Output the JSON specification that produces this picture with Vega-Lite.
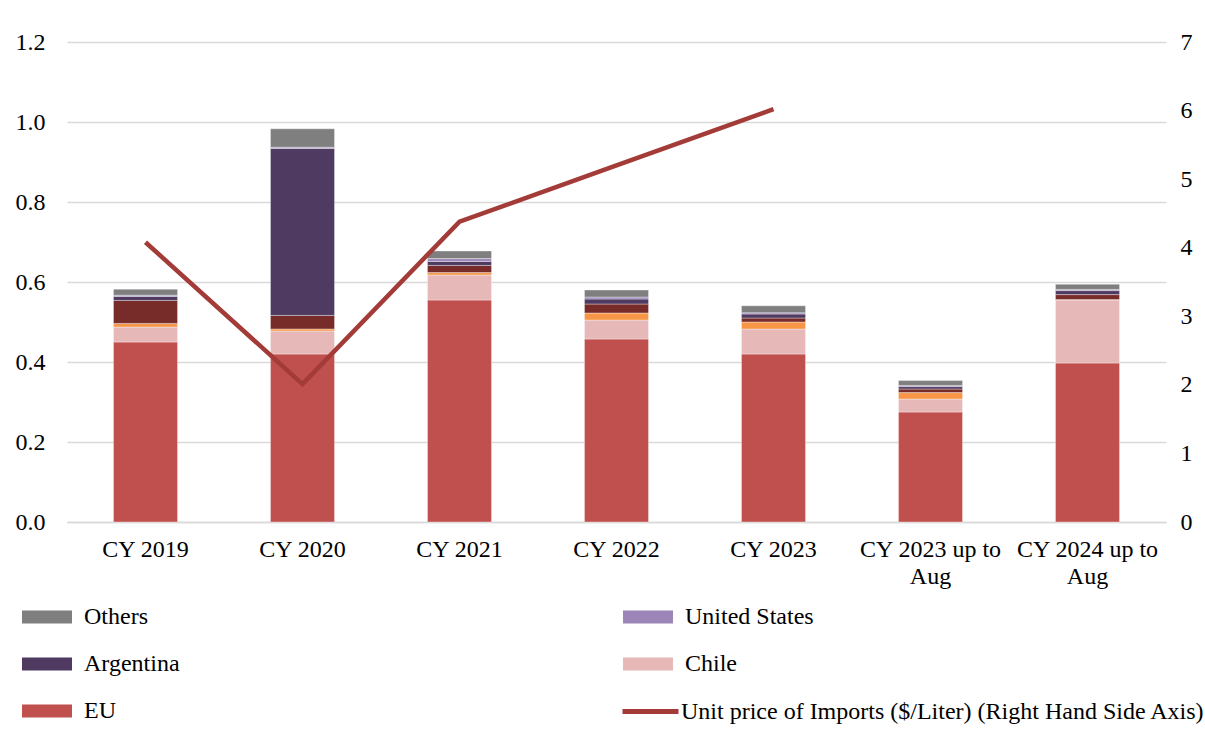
{
  "$schema": "https://vega.github.io/schema/vega-lite/v6.json",
  "width": 1099,
  "height": 480,
  "autosize": {"type": "none"},
  "padding": {"left": 67, "top": 42, "right": 39, "bottom": 210},
  "background": "white",
  "config": {
    "view": {"stroke": null},
    "font": "Liberation Serif",
    "axis": {"labelFont": "Liberation Serif", "labelFontSize": 24, "labelColor": "#000000", "ticks": false, "title": null},
    "legend": {"labelFont": "Liberation Serif", "labelFontSize": 24, "labelColor": "#000000", "title": null}
  },
  "datasets": {
    "shares": [
      {"year": "CY 2019", "source": "EU", "value": 0.45},
      {"year": "CY 2019", "source": "Chile", "value": 0.0375},
      {"year": "CY 2019", "source": "South Africa", "value": 0.009},
      {"year": "CY 2019", "source": "Australia", "value": 0.0575},
      {"year": "CY 2019", "source": "Argentina", "value": 0.01},
      {"year": "CY 2019", "source": "United States", "value": 0.003},
      {"year": "CY 2019", "source": "Others", "value": 0.015},
      {"year": "CY 2020", "source": "EU", "value": 0.42},
      {"year": "CY 2020", "source": "Chile", "value": 0.0575},
      {"year": "CY 2020", "source": "South Africa", "value": 0.005},
      {"year": "CY 2020", "source": "Australia", "value": 0.034},
      {"year": "CY 2020", "source": "Argentina", "value": 0.4175},
      {"year": "CY 2020", "source": "United States", "value": 0.003},
      {"year": "CY 2020", "source": "Others", "value": 0.046},
      {"year": "CY 2021", "source": "EU", "value": 0.555},
      {"year": "CY 2021", "source": "Chile", "value": 0.0625},
      {"year": "CY 2021", "source": "South Africa", "value": 0.006},
      {"year": "CY 2021", "source": "Australia", "value": 0.018},
      {"year": "CY 2021", "source": "Argentina", "value": 0.01},
      {"year": "CY 2021", "source": "United States", "value": 0.007},
      {"year": "CY 2021", "source": "Others", "value": 0.019},
      {"year": "CY 2022", "source": "EU", "value": 0.4575},
      {"year": "CY 2022", "source": "Chile", "value": 0.0475},
      {"year": "CY 2022", "source": "South Africa", "value": 0.0175},
      {"year": "CY 2022", "source": "Australia", "value": 0.0225},
      {"year": "CY 2022", "source": "Argentina", "value": 0.0125},
      {"year": "CY 2022", "source": "United States", "value": 0.005},
      {"year": "CY 2022", "source": "Others", "value": 0.0175},
      {"year": "CY 2023", "source": "EU", "value": 0.42},
      {"year": "CY 2023", "source": "Chile", "value": 0.0625},
      {"year": "CY 2023", "source": "South Africa", "value": 0.0175},
      {"year": "CY 2023", "source": "Australia", "value": 0.01},
      {"year": "CY 2023", "source": "Argentina", "value": 0.01},
      {"year": "CY 2023", "source": "United States", "value": 0.003},
      {"year": "CY 2023", "source": "Others", "value": 0.0175},
      {"year": "CY 2023 up to Aug", "source": "EU", "value": 0.275},
      {"year": "CY 2023 up to Aug", "source": "Chile", "value": 0.0325},
      {"year": "CY 2023 up to Aug", "source": "South Africa", "value": 0.016},
      {"year": "CY 2023 up to Aug", "source": "Australia", "value": 0.009},
      {"year": "CY 2023 up to Aug", "source": "Argentina", "value": 0.006},
      {"year": "CY 2023 up to Aug", "source": "United States", "value": 0.003},
      {"year": "CY 2023 up to Aug", "source": "Others", "value": 0.012},
      {"year": "CY 2024 up to Aug", "source": "EU", "value": 0.3975},
      {"year": "CY 2024 up to Aug", "source": "Chile", "value": 0.1575},
      {"year": "CY 2024 up to Aug", "source": "South Africa", "value": 0.001},
      {"year": "CY 2024 up to Aug", "source": "Australia", "value": 0.0125},
      {"year": "CY 2024 up to Aug", "source": "Argentina", "value": 0.01},
      {"year": "CY 2024 up to Aug", "source": "United States", "value": 0.003},
      {"year": "CY 2024 up to Aug", "source": "Others", "value": 0.013}
    ],
    "price": [
      {"year": "CY 2019", "series": "Unit price of Imports ($/Liter) (Right Hand Side Axis)", "price": 4.08},
      {"year": "CY 2020", "series": "Unit price of Imports ($/Liter) (Right Hand Side Axis)", "price": 2.01},
      {"year": "CY 2021", "series": "Unit price of Imports ($/Liter) (Right Hand Side Axis)", "price": 4.38},
      {"year": "CY 2022", "series": "Unit price of Imports ($/Liter) (Right Hand Side Axis)", "price": 5.2},
      {"year": "CY 2023", "series": "Unit price of Imports ($/Liter) (Right Hand Side Axis)", "price": 6.02}
    ]
  },
  "encoding": {
    "x": {
      "field": "year",
      "type": "nominal",
      "sort": null,
      "scale": {"paddingInner": 0.592, "paddingOuter": 0.296},
      "axis": {
        "labelAngle": 0,
        "labelPadding": 15,
        "domainColor": "#D9D9D9",
        "domainWidth": 1.5,
        "labelLineHeight": 27,
        "labelExpr": "indexof(datum.label, ' up to Aug') > 0 ? [replace(datum.label, ' Aug', ''), 'Aug'] : datum.label"
      }
    }
  },
  "layer": [
    {
      "data": {"name": "shares"},
      "transform": [
        {"calculate": "indexof(['EU', 'Chile', 'South Africa', 'Australia', 'Argentina', 'United States', 'Others'], datum.source)", "as": "stackRank"}
      ],
      "mark": {"type": "bar", "stroke": "white", "strokeWidth": 0.6, "strokeOpacity": 0.6},
      "encoding": {
        "y": {
          "field": "value",
          "type": "quantitative",
          "stack": "zero",
          "scale": {"domain": [0, 1.2], "nice": false},
          "axis": {
            "values": [0, 0.2, 0.4, 0.6, 0.8, 1.0, 1.2],
            "format": ".1f",
            "domain": false,
            "labelPadding": 22,
            "gridColor": "#D9D9D9",
            "gridWidth": 1.5
          }
        },
        "order": {"field": "stackRank", "type": "quantitative", "sort": "ascending"},
        "color": {
          "field": "source",
          "type": "nominal",
          "scale": {
            "domain": ["EU", "Chile", "South Africa", "Australia", "Argentina", "United States", "Others"],
            "range": ["#C0504D", "#E6B9B8", "#F79646", "#772C2A", "#4F3A62", "#9B86B7", "#7F7F7F"]
          },
          "legend": {
            "values": ["Others", "Argentina", "EU", "United States", "Chile"],
            "orient": "none",
            "legendX": -45,
            "legendY": 550,
            "columns": 2,
            "columnPadding": 443,
            "rowPadding": 10,
            "symbolType": "M-1,-0.26H1V0.26H-1Z",
            "symbolSize": 2500,
            "symbolStrokeWidth": 0,
            "labelOffset": 12
          }
        }
      }
    },
    {
      "data": {"name": "price"},
      "mark": {"type": "line", "strokeWidth": 4.5, "strokeCap": "butt"},
      "encoding": {
        "y": {
          "field": "price",
          "type": "quantitative",
          "scale": {"domain": [0, 7], "nice": false},
          "axis": {
            "orient": "right",
            "values": [0, 1, 2, 3, 4, 5, 6, 7],
            "grid": false,
            "domain": false,
            "labelPadding": 14
          }
        },
        "stroke": {
          "field": "series",
          "type": "nominal",
          "scale": {"range": ["#A33B38"]},
          "legend": {
            "orient": "none",
            "legendX": 553,
            "legendY": 639,
            "symbolType": "stroke",
            "symbolSize": 3136,
            "symbolStrokeWidth": 5,
            "labelOffset": 0,
            "labelLimit": 0
          }
        }
      }
    }
  ],
  "resolve": {"scale": {"y": "independent"}}
}
